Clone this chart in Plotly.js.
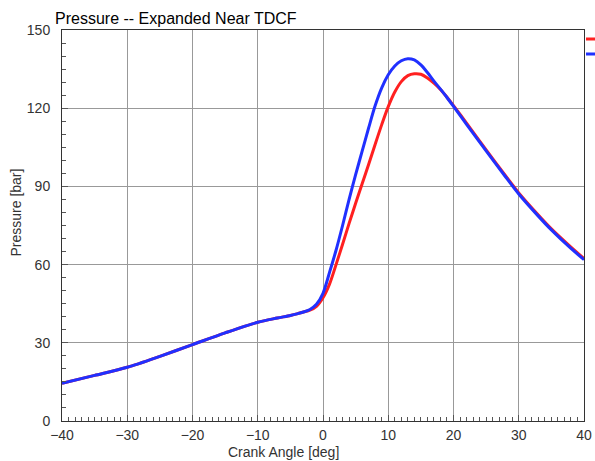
<!DOCTYPE html>
<html>
<head>
<meta charset="utf-8">
<script src="https://cdn.plot.ly/plotly-3.0.1.min.js"></script>
<style>html,body{margin:0;padding:0;background:#fff}#chart{width:595px;height:461px}</style>
</head>
<body>
<div id="chart"></div>
<script>
// Crank angle [deg]
const crankAngle = [-40,-35,-30,-25,-20,-15,-10,-7,-5,-4,-3,-2,-1,0,1,2,3,4,5,6,7,8,9,10,11,12,13,14,15,16,17,18,19,20,22,25,28,30,33,35,38,40];
// Pressure [bar] - red series
const pressureRed = [14.5,17.5,20.6,24.8,29.3,33.8,37.9,39.5,40.5,41.1,41.8,42.5,44.0,47.3,52.5,60.0,67.8,75.8,83.5,91.0,98.5,106.2,113.7,120.6,126.2,130.2,132.5,133.2,133.0,131.6,129.6,127.2,124.2,121.0,114.3,104.0,94.0,87.5,79.0,73.7,66.7,62.3];
// Pressure [bar] - blue series
const pressureBlue = [14.5,17.5,20.6,24.8,29.3,33.8,37.9,39.5,40.5,41.1,41.8,42.8,44.8,49.0,57.0,65.5,75.0,85.0,94.5,103.5,112.5,121.0,127.8,132.8,136.2,138.2,139.0,138.5,136.6,133.7,130.4,127.3,124.1,120.7,113.8,103.6,93.6,87.1,78.6,73.3,66.2,61.9];

const xTicks = [-40,-30,-20,-10,0,10,20,30,40];
const yTicks = [0,30,60,90,120,150];
// legend entries show no text in the reference (cut off by the frame)
const seriesNames = [' ',' '];

const fam = 'Liberation Sans, Arial, sans-serif';

const traces = [
  {x: crankAngle, y: pressureRed, mode:'lines', name: seriesNames[0], legend:'legend', line:{color:'#ff2020', width:3, shape:'spline', smoothing:0.8}},
  {x: crankAngle, y: pressureBlue, mode:'lines', name: seriesNames[1], legend:'legend2', line:{color:'#2030ff', width:3, shape:'spline', smoothing:0.8}}
];

const axisCommon = {
  showline:true, linecolor:'#333', linewidth:1, mirror:true,
  showgrid:true, gridcolor:'#999', gridwidth:1,
  zeroline:false,
  ticks:'inside', ticklen:6, tickcolor:'#555',
  tickfont:{family:fam, size:14, color:'#333'}
};

const legendCommon = {x:(581-62)/522, xanchor:'left', yanchor:'top', bgcolor:'rgba(0,0,0,0)', borderwidth:0,
  font:{family:fam, size:12, color:'#222'}, itemwidth:30};

const layout = {
  width:595, height:461,
  paper_bgcolor:'#fff', plot_bgcolor:'#fff',
  margin:{l:62, r:11, t:30, b:40, autoexpand:false},
  font:{family:fam, color:'#222'},
  showlegend:true,
  legend: Object.assign({}, legendCommon, {y:1+(30.5-25)/391}),
  legend2: Object.assign({}, legendCommon, {y:1-(40-30.5)/391}),
  title:{text:'Pressure -- Expanded Near TDCF', font:{family:fam, size:16, color:'#000'},
         xref:'container', x:55/595, xanchor:'left', yref:'container', y:1-18/461, yanchor:'middle'},
  xaxis: Object.assign({}, axisCommon, {
    range:[xTicks[0], xTicks[xTicks.length-1]], tickmode:'linear', tick0:xTicks[0], dtick:xTicks[1]-xTicks[0], ticklabelstandoff:1,
    minor:{dtick:1, ticks:'inside', ticklen:4, tickcolor:'#555', showgrid:false}
  }),
  yaxis: Object.assign({}, axisCommon, {
    range:[yTicks[0], yTicks[yTicks.length-1]], tickmode:'linear', tick0:yTicks[0], dtick:yTicks[1]-yTicks[0], ticklabelstandoff:8,
    minor:{dtick:5, ticks:'inside', ticklen:4, tickcolor:'#555', showgrid:false}
  }),
  annotations:[
    {text:'Crank Angle [deg]', xref:'paper', yref:'paper', x:(283-62)/522, y:-(452-421.5)/391, xanchor:'center', yanchor:'middle', showarrow:false, font:{family:fam, size:14, color:'#333'}},
    {text:'Pressure [bar]', xref:'paper', yref:'paper', x:-(62-15)/522, y:(421.5-213)/391, xanchor:'center', yanchor:'middle', textangle:-90, showarrow:false, font:{family:fam, size:14, color:'#333'}}
  ]
};

Plotly.newPlot('chart', traces, layout, {displayModeBar:false, staticPlot:true});
</script>
</body>
</html>
